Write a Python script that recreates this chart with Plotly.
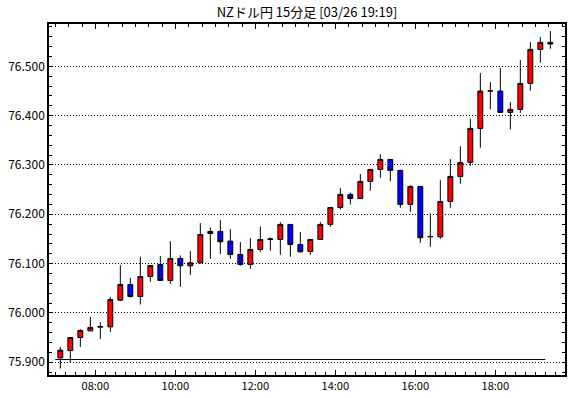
import plotly.graph_objects as go
import pandas as pd

title_text = "NZドル円 15分足 [03/26 19:19]"

start_time = "2024-03-26 07:00"
n_bars = 50

opens = [75.9088, 75.9237, 75.9500, 75.9636, 75.9710, 75.9717, 76.0258, 76.0576, 76.0333, 76.0738,
         76.0982, 76.0657, 76.1104, 76.0955, 76.1016, 76.1611, 76.1652, 76.1456, 76.1185, 76.0982,
         76.1286, 76.1490, 76.1489, 76.1794, 76.1388, 76.1246, 76.1489, 76.1794, 76.2139, 76.2403,
         76.2321, 76.2666, 76.2910, 76.3113, 76.2890, 76.2200, 76.2565, 76.1543, 76.1543, 76.2260,
         76.2768, 76.3052, 76.3742, 76.4500, 76.4500, 76.4067, 76.4128, 76.4655, 76.5345, 76.5487]
highs = [75.9311, 75.9510, 75.9670, 75.9920, 75.9810, 76.0326, 76.0968, 76.0711, 76.1138, 76.0970,
         76.1151, 76.1456, 76.1165, 76.1253, 76.1821, 76.1733, 76.1882, 76.1699, 76.1435, 76.1516,
         76.1753, 76.1530, 76.1841, 76.1794, 76.1638, 76.1490, 76.1841, 76.2140, 76.2531, 76.2443,
         76.2815, 76.2910, 76.3221, 76.3113, 76.2903, 76.2592, 76.2565, 76.2017, 76.2693, 76.3120,
         76.3383, 76.3938, 76.4865, 76.4682, 76.4966, 76.4276, 76.5129, 76.5494, 76.5595, 76.5717]
lows = [75.8871, 75.8993, 75.9310, 75.9630, 75.9470, 75.9616, 76.0238, 76.0312, 76.0170, 76.0630,
        76.0657, 76.0590, 76.0529, 76.0766, 76.1002, 76.1097, 76.1192, 76.1097, 76.0955, 76.0894,
        76.1239, 76.1260, 76.1178, 76.1138, 76.1226, 76.1178, 76.1489, 76.1746, 76.2098, 76.2200,
        76.2320, 76.2477, 76.2741, 76.2673, 76.2132, 76.2051, 76.1422, 76.1341, 76.1503, 76.2132,
        76.2619, 76.2984, 76.3350, 76.4128, 76.4067, 76.3722, 76.4060, 76.4506, 76.5074, 76.5359]
closes = [75.9244, 75.9500, 75.9643, 75.9704, 75.9724, 76.0272, 76.0576, 76.0333, 76.0738, 76.0962,
          76.0657, 76.1104, 76.0955, 76.1016, 76.1591, 76.1652, 76.1442, 76.1185, 76.0982, 76.1286,
          76.1489, 76.1500, 76.1794, 76.1388, 76.1239, 76.1489, 76.1794, 76.2139, 76.2403, 76.2321,
          76.2666, 76.2910, 76.3113, 76.2890, 76.2200, 76.2565, 76.1523, 76.1550, 76.2260, 76.2768,
          76.3052, 76.3742, 76.4500, 76.4505, 76.4067, 76.4128, 76.4655, 76.5345, 76.5487, 76.5453]

ref_line_value = 75.9054
ref_line_start = "2024-03-26 07:00"
ref_line_end = "2024-03-26 19:15"

y_ticks = [75.9, 76.0, 76.1, 76.2, 76.3, 76.4, 76.5]
y_tick_labels = ["75.900", "76.000", "76.100", "76.200", "76.300", "76.400", "76.500"]
x_tick_times = ["2024-03-26 08:00", "2024-03-26 10:00", "2024-03-26 12:00",
                "2024-03-26 14:00", "2024-03-26 16:00", "2024-03-26 18:00"]
x_tick_labels = ["08:00", "10:00", "12:00", "14:00", "16:00", "18:00"]

bar_starts = pd.date_range(start_time, periods=n_bars, freq="15min")
half = pd.Timedelta(minutes=7.5)
centers = bar_starts + half

fig = go.Figure()
fig.add_trace(go.Candlestick(
    x=centers, open=opens, high=highs, low=lows, close=closes,
    increasing=dict(fillcolor="#FF0000", line=dict(color="#000000", width=1)),
    decreasing=dict(fillcolor="#0000FF", line=dict(color="#000000", width=1)),
    whiskerwidth=0, showlegend=False, hoverinfo="skip",
))
fig.add_trace(go.Scatter(
    x=[pd.Timestamp(ref_line_start), pd.Timestamp(ref_line_end)],
    y=[ref_line_value, ref_line_value], mode="lines",
    line=dict(color="#000000", width=1), showlegend=False, hoverinfo="skip",
))
x_range = [pd.Timestamp("2024-03-26 06:50:30"), pd.Timestamp("2024-03-26 19:44:30")]
fig.add_trace(go.Scatter(x=x_range, y=[76.0, 76.0], xaxis="x2", mode="lines",
                         line=dict(color="rgba(0,0,0,0)"), showlegend=False, hoverinfo="skip"))

font_fam = "Noto Sans CJK JP, DejaVu Sans, sans-serif"
fig.update_layout(
    width=570, height=398,
    margin=dict(l=49, r=5, t=24, b=23, autoexpand=False),
    paper_bgcolor="white", plot_bgcolor="white",
    boxgap=0.3,
    title=dict(text=title_text, x=(49 + 565) / 2 / 570, xanchor="center",
               y=1 - 12 / 398, yanchor="middle", automargin=False,
               font=dict(family=font_fam, size=13, color="#000000")),
    font=dict(family=font_fam, size=11, color="#000000"),
    xaxis=dict(
        type="date", range=x_range, rangeslider=dict(visible=False), automargin=False,
        tickvals=[pd.Timestamp(t) for t in x_tick_times], ticktext=x_tick_labels,
        ticks="inside", ticklen=5, tickcolor="#000", tickwidth=1,
        minor=dict(dtick=15 * 60 * 1000, tick0="2024-03-26 07:00", ticks="inside",
                   ticklen=3, tickcolor="#000", showgrid=False),
        showline=True, linecolor="#000", linewidth=1.5, mirror=True,
        showgrid=False, zeroline=False, tickfont=dict(size=11),
    ),
    xaxis2=dict(
        type="date", range=x_range, overlaying="x", side="top", anchor="y", automargin=False,
        tickvals=[pd.Timestamp(t) for t in x_tick_times], showticklabels=False,
        ticks="inside", ticklen=5, tickcolor="#000",
        minor=dict(dtick=20 * 60 * 1000, tick0="2024-03-26 08:00", ticks="inside",
                   ticklen=3, tickcolor="#000", showgrid=False),
        showgrid=False, zeroline=False, showline=False,
    ),
    yaxis=dict(
        range=[75.874, 76.586], tickvals=y_ticks, ticktext=y_tick_labels, automargin=False,
        side="left", ticks="inside", ticklen=3, tickcolor="#000",
        minor=dict(dtick=0.02, tick0=75.9, ticks="inside", ticklen=3,
                   tickcolor="#000", showgrid=False),
        showline=True, linecolor="#000", linewidth=1.5, mirror="ticks",
        showgrid=True, gridcolor="#000", griddash="1px,2px", gridwidth=1,
        zeroline=False, tickfont=dict(size=12),
    ),
)
fig.write_html("out.html", config={"displayModeBar": False},
               post_script="document.body.style.margin='0px';document.body.style.overflow='hidden';")
